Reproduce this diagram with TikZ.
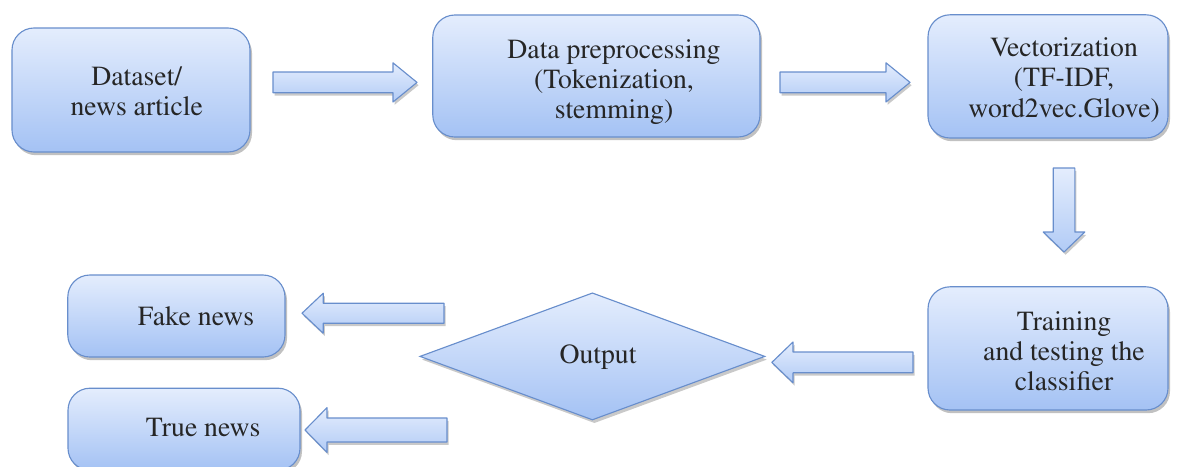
\documentclass[tikz,border=0pt]{standalone}
\usepackage[T1]{fontenc}
\usepackage{times}
\usetikzlibrary{shapes.geometric,shadows,positioning}

\definecolor{boxtop}{RGB}{228,237,253}
\definecolor{boxbot}{RGB}{164,194,244}
\definecolor{boxedge}{RGB}{104,142,204}

% block arrow: position, rotation, half length, shaft half width, head half width, head length
\newcommand{\blockarr}[6]{%
  \begin{scope}[shift={#1}, rotate=#2]
    \path[arrowbody] (-#3,-#4) -- (#3-#6,-#4) -- (#3-#6,-#5) -- (#3,0)
      -- (#3-#6,#5) -- (#3-#6,#4) -- (-#3,#4) -- cycle;
  \end{scope}}

\begin{document}
\begin{tikzpicture}[
    boxnode/.style={draw=boxedge, thick, rounded corners=0.55cm, top color=boxtop, bottom color=boxbot,
        drop shadow={shadow xshift=0.05cm, shadow yshift=-0.08cm, opacity=0.35, fill=black!70}},
    outnode/.style={diamond, draw=boxedge, thick, top color=boxtop, bottom color=boxbot,
        drop shadow={shadow xshift=0.05cm, shadow yshift=-0.08cm, opacity=0.3, fill=black!70}},
    txtnode/.style={font=\fontsize{19.7}{21.5}\selectfont, text=black!85, align=center},
    arrowbody/.style={draw=boxedge, thick, line join=round, top color=boxtop, bottom color=boxbot!85!white,
        drop shadow={shadow xshift=0.04cm, shadow yshift=-0.07cm, opacity=0.3, fill=black!70}}
]
\useasboundingbox (0,0) rectangle (29.825,-11.65);

% Top row
\node[boxnode, minimum width=5.95cm, minimum height=3.1cm] (data) at (3.275,-2.25) {};
\node[txtnode] (datatxt) at (3.42,-2.29) {Dataset/\\news article};

\node[boxnode, minimum width=8.18cm, minimum height=3.05cm] (prep) at (14.91,-1.9) {};
\node[txtnode] (preptxt) at (15.35,-2.05) {Data preprocessing\\(Tokenization,\\stemming)};

\node[boxnode, minimum width=6.0cm, minimum height=3.08cm] (vect) at (26.2,-1.91) {};
\node[txtnode] (vecttxt) at (26.6,-2.0) {Vectorization\\(TF-IDF,\\word2vec.Glove)};

% Right column
\node[boxnode, minimum width=6.0cm, minimum height=3.08cm] (train) at (26.2,-8.71) {};
\node[txtnode] (traintxt) at (26.6,-8.78) {Training\\and testing the\\classifier};

% Decision
\node[outnode, minimum width=8.63cm, minimum height=3.18cm] (output) at (14.81,-8.91) {};
\node[txtnode] (outputtxt) at (14.95,-8.93) {Output};

% Results
\node[boxnode, minimum width=5.43cm, minimum height=2.05cm] (fake) at (4.41,-7.9) {};
\node[txtnode] (faketxt) at (4.9,-7.9) {Fake news};

\node[boxnode, minimum width=5.8cm, minimum height=2.05cm] (true) at (4.6,-10.73) {};
\node[txtnode] (truetxt) at (5.08,-10.7) {True news};

% Block arrows
\blockarr{(8.625,-2.06)}{0}{1.8}{0.26}{0.49}{0.6}
\blockarr{(21.125,-2.06)}{0}{1.625}{0.26}{0.49}{0.6}
\blockarr{(26.6,-5.25)}{-90}{1.05}{0.27}{0.52}{0.5}
\blockarr{(21.06,-9.06)}{180}{1.765}{0.26}{0.51}{0.53}
\blockarr{(9.325,-7.83)}{180}{1.775}{0.25}{0.5}{0.53}
\blockarr{(9.4,-10.75)}{180}{1.775}{0.3}{0.56}{0.55}

\end{tikzpicture}
\end{document}
